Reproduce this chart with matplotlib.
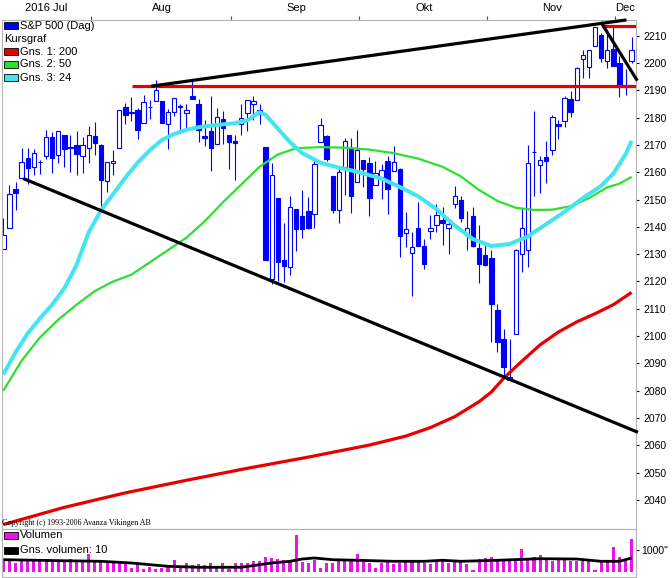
import matplotlib
matplotlib.use('Agg')
import matplotlib.pyplot as plt
from matplotlib.patches import Rectangle
import pandas as pd

# Handelsdagar (S&P 500, dagsdata)
dagar = (
    ['2016-07-%02d' % d for d in [11, 12, 13, 14, 15, 18, 19, 20, 21, 22, 25, 26, 27, 28, 29]]
    + ['2016-08-%02d' % d for d in [1, 2, 3, 4, 5, 8, 9, 10, 11, 12, 15, 16, 17, 18, 19, 22, 23, 24, 25, 26, 29, 30, 31]]
    + ['2016-09-%02d' % d for d in [1, 2, 6, 7, 8, 9, 12, 13, 14, 15, 16, 19, 20, 21, 22, 23, 26, 27, 28, 29, 30]]
    + ['2016-10-%02d' % d for d in [3, 4, 5, 6, 7, 10, 11, 12, 13, 14, 17, 18, 19, 20, 21, 24, 25, 26, 27, 28, 31]]
    + ['2016-11-%02d' % d for d in [1, 2, 3, 4, 7, 8, 9, 10, 11, 14, 15, 16, 17, 18, 21, 22, 23, 25, 28, 29, 30]]
    + ['2016-12-%02d' % d for d in [1, 2, 5]]
)

oppning = [2131.72, 2139.50, 2153.81, 2157.88, 2165.13, 2162.04, 2163.79, 2166.10, 2172.91, 2166.47,
           2173.71, 2168.97, 2169.81, 2166.05, 2168.83,
           2173.15, 2169.94, 2156.81, 2163.51, 2168.79, 2183.76, 2182.24, 2182.81, 2177.97, 2183.74,
           2186.08, 2186.24, 2177.84, 2181.90, 2184.24, 2181.58, 2187.81, 2185.09, 2173.29, 2175.10,
           2170.19, 2179.45, 2173.56,
           2171.33, 2177.49, 2181.61, 2185.17, 2182.76, 2169.08, 2120.86, 2150.47, 2127.86, 2125.36,
           2146.48, 2143.99, 2145.94, 2144.58, 2170.94, 2173.29, 2158.54, 2146.04, 2161.85, 2168.90,
           2156.51,
           2164.33, 2163.37, 2155.15, 2158.22, 2164.19, 2160.39, 2161.35, 2137.67, 2130.26, 2139.68,
           2132.95, 2138.31, 2140.81, 2142.51, 2139.43, 2148.50, 2149.72, 2136.97, 2144.06, 2132.23,
           2129.78,
           2128.68, 2109.43, 2098.80, 2083.79, 2100.59, 2129.92, 2131.56, 2167.49, 2162.71, 2165.64,
           2168.29, 2177.53, 2178.61, 2186.85, 2186.43, 2201.56, 2198.55, 2206.27, 2210.21, 2200.76,
           2204.97,
           2200.17, 2191.12, 2200.65]
hogst = [2143.16, 2155.40, 2156.45, 2169.05, 2169.05, 2168.35, 2164.63, 2175.63, 2174.56, 2175.11,
         2173.71, 2173.54, 2174.98, 2172.85, 2177.09,
         2178.29, 2170.20, 2163.79, 2168.19, 2182.87, 2185.44, 2187.66, 2183.41, 2188.45, 2186.28,
         2193.81, 2186.24, 2183.08, 2187.03, 2185.00, 2184.93, 2193.42, 2186.66, 2179.00, 2187.94,
         2183.48, 2182.27, 2173.79,
         2173.56, 2184.87, 2186.57, 2187.87, 2184.94, 2169.08, 2163.30, 2150.47, 2141.33, 2151.31,
         2146.48, 2153.61, 2150.80, 2165.11, 2179.99, 2173.75, 2158.54, 2161.13, 2172.40, 2172.67,
         2175.30,
         2164.41, 2165.46, 2163.95, 2162.93, 2165.86, 2169.60, 2161.56, 2145.36, 2138.19, 2149.19,
         2135.61, 2144.38, 2148.44, 2147.18, 2142.63, 2154.79, 2151.44, 2145.73, 2147.13, 2140.72,
         2133.25,
         2131.45, 2111.76, 2102.56, 2099.07, 2132.00, 2146.87, 2170.10, 2182.30, 2165.92, 2171.36,
         2180.84, 2179.22, 2188.06, 2189.89, 2198.70, 2204.80, 2204.72, 2213.35, 2211.14, 2210.46,
         2214.10,
         2202.60, 2197.95, 2209.42]
lagst = [2131.72, 2139.50, 2146.21, 2157.88, 2155.79, 2159.07, 2159.40, 2164.89, 2159.75, 2163.24,
         2161.95, 2160.18, 2159.07, 2159.74, 2163.49,
         2166.21, 2147.58, 2152.70, 2159.07, 2168.79, 2177.85, 2178.61, 2172.00, 2177.97, 2179.42,
         2186.08, 2178.14, 2168.50, 2180.46, 2175.13, 2175.96, 2186.80, 2171.25, 2169.74, 2160.39,
         2170.19, 2170.41, 2161.35,
         2157.09, 2173.59, 2175.10, 2179.07, 2177.49, 2127.81, 2119.12, 2120.27, 2119.90, 2122.36,
         2131.20, 2135.91, 2139.17, 2139.57, 2170.94, 2163.97, 2145.04, 2141.55, 2151.79, 2145.20,
         2156.51,
         2154.77, 2144.01, 2155.15, 2150.28, 2144.85, 2160.39, 2128.84, 2132.77, 2114.72, 2132.98,
         2124.43, 2135.49, 2138.15, 2133.44, 2130.09, 2146.91, 2141.93, 2131.59, 2132.52, 2119.36,
         2125.53,
         2097.85, 2094.00, 2085.23, 2083.79, 2100.59, 2123.56, 2125.35, 2151.17, 2152.49, 2156.08,
         2166.38, 2172.20, 2176.65, 2180.38, 2186.43, 2194.51, 2194.51, 2206.27, 2200.36, 2198.15,
         2198.81,
         2187.44, 2188.37, 2199.97]
stangning = [2137.16, 2152.14, 2152.43, 2163.75, 2161.74, 2166.89, 2163.78, 2173.02, 2165.17, 2175.03,
             2168.48, 2169.18, 2166.58, 2170.06, 2173.60,
             2170.84, 2157.03, 2163.79, 2164.25, 2182.87, 2180.89, 2181.74, 2175.49, 2185.79, 2184.05,
             2190.15, 2178.15, 2182.22, 2187.02, 2183.87, 2182.64, 2186.90, 2175.44, 2172.47, 2169.04,
             2180.38, 2176.12, 2170.95,
             2170.86, 2179.98, 2186.48, 2186.16, 2181.30, 2127.81, 2159.04, 2127.02, 2125.77, 2147.26,
             2139.16, 2139.12, 2139.76, 2163.12, 2177.18, 2164.69, 2146.10, 2159.93, 2171.37, 2151.13,
             2168.27,
             2161.20, 2150.49, 2159.73, 2160.77, 2153.74, 2163.66, 2136.73, 2139.18, 2132.55, 2132.98,
             2126.50, 2139.60, 2144.29, 2141.34, 2141.16, 2151.33, 2143.16, 2139.43, 2133.04, 2126.41,
             2126.15,
             2111.72, 2097.94, 2088.66, 2085.18, 2131.52, 2139.56, 2163.26, 2167.48, 2164.45, 2164.20,
             2180.39, 2176.94, 2187.12, 2181.90, 2198.18, 2202.94, 2204.72, 2213.35, 2201.72, 2204.66,
             2198.81,
             2191.08, 2191.95, 2204.71]

volym = [520, 520, 390, 500, 500, 480, 480, 480, 500, 520, 500, 570, 450, 550, 800,
         500, 520, 480, 500, 500, 450, 180, 360, 140, 230, 140, 180, 230, 550, 270, 410, 320, 360,
         320, 410, 180, 410, 140,
         410, 410, 410, 500, 500, 680, 640, 570, 550, 550, 1700, 450, 410, 550, 160, 410, 410, 500,
         500, 550, 800,
         500, 410, 160, 410, 550, 360, 410, 500, 450, 500, 410, 360, 450, 550, 410, 500, 450, 360,
         110, 590, 640,
         680, 550, 550, 550, 550, 1050, 570, 680, 750, 550, 500, 550, 590, 500, 500, 550, 500, 110,
         450, 550, 1140,
         680, 550, 1500]

# Glidande medelvarden (avlasta ur bilden, dagindex -> varde)
gns200_dag = [0, 10, 20, 30, 40, 50, 60, 66, 70, 74, 78, 80, 82, 85, 88, 91, 94, 97, 100, 103]
gns200 = [2031, 2037.3, 2042.6, 2047.2, 2051.6, 2055.7, 2060.1, 2063.4, 2066.5, 2070.5, 2076,
          2079.5, 2084.5, 2090.8, 2096.8, 2101.5, 2105.2, 2108.2, 2111.5, 2116]
gns50_dag = [0, 3, 6, 9, 12, 15, 18, 21, 24, 27, 30, 33, 36, 39, 42, 45, 48, 52, 56, 60, 64, 68,
             72, 75, 78, 81, 84, 87, 90, 93, 96, 99, 101, 103]
gns50 = [2080, 2091, 2099.5, 2106, 2111.5, 2116.5, 2120, 2122.5, 2127, 2131.5, 2136, 2142, 2149,
         2155.5, 2162, 2166.5, 2168.8, 2169.2, 2169, 2168.3, 2167, 2165, 2162, 2158.5, 2153.5,
         2149.5, 2147, 2146.2, 2146.3, 2147.6, 2150.5, 2154.5, 2155.8, 2158.3]
gns24_dag = [0, 2, 4, 6, 8, 10, 12, 14, 16, 18, 20, 22, 24, 26, 28, 30, 32, 35, 38, 40, 42, 43,
             45, 47, 49, 52, 55, 58, 62, 65, 68, 71, 74, 77, 80, 83, 86, 89, 92, 95, 98, 100, 102, 103]
gns24 = [2086, 2094, 2101, 2106.5, 2111.5, 2117.5, 2126, 2138, 2146, 2152, 2158, 2163.5, 2168,
         2171.8, 2174, 2175.5, 2176.5, 2177.3, 2178, 2179, 2182, 2181, 2176, 2171, 2167, 2163.5,
         2161.7, 2160.2, 2157.7, 2154.6, 2151.2, 2146.5, 2140.5, 2135.5, 2133, 2133.7, 2136.5,
         2141, 2145.5, 2150.5, 2155, 2159.5, 2166.5, 2171.5]
gns_vol_dag = [0, 8, 16, 21, 27, 32, 39, 44, 47, 49, 51, 54, 58, 64, 69, 72, 75, 81, 88, 94, 98, 101, 103]
gns_vol = [560, 520, 486, 409, 259, 214, 214, 409, 486, 590, 636, 559, 532, 486, 486, 532, 486,
           532, 604, 590, 486, 486, 636]

# Ritade linjer (dagindex, kurs)
trend_ned = ([3.5, 103.8], [2157.5, 2065.0])
trend_upp = ([24.5, 101.9], [2191.6, 2215.7])
trend_ned_kort = ([98.1, 103.8], [2214.5, 2194.0])
stod = ([21.1, 103.8], [2191.7, 2191.7])
motstand = ([98.2, 103.8], [2213.6, 2213.6])

W, H = 672, 578
fig = plt.figure(figsize=(W / 100, H / 100), dpi=100)
fig.patch.set_facecolor('white')
font = 'Liberation Sans'
gra = '#b4b4b4'


def fx(px):
    return px / W


def fy(py):
    return 1 - py / H


ax = fig.add_axes([fx(1.5), fy(529), (636 - 1.5) / W, (529 - 20) / H])
axv = fig.add_axes([fx(1.5), fy(576.5), (636 - 1.5) / W, (576.5 - 529) / H])

n = len(dagar)
idx = list(range(n))

# Candlesticks
for i in idx:
    ax.vlines(i, lagst[i], hogst[i], color='#0000ff', lw=0.8, zorder=2)
upp = [i for i in idx if stangning[i] >= oppning[i]]
ned = [i for i in idx if stangning[i] < oppning[i]]
ax.bar(upp, [max(stangning[i] - oppning[i], 0.3) for i in upp], bottom=[oppning[i] for i in upp],
       width=0.72, color='white', edgecolor='#0000ff', linewidth=0.8, zorder=2.5)
ax.bar(ned, [oppning[i] - stangning[i] for i in ned], bottom=[stangning[i] for i in ned],
       width=0.72, color='#0000ff', edgecolor='#0000ff', linewidth=0.8, zorder=2.5)

# Medelvarden
rund = dict(solid_joinstyle='round', solid_capstyle='butt')
ax.plot(gns200_dag, gns200, color='#e80000', lw=2.3, zorder=3, **rund)
ax.plot(gns50_dag, gns50, color='#2ee02e', lw=1.6, zorder=3, **rund)
ax.plot(gns24_dag, gns24, color='#45e4f2', lw=2.9, zorder=3.2, **rund)

# Trendlinjer
for xs, ys in [stod, motstand]:
    ax.plot(xs, ys, color='#e80000', lw=2.3, zorder=4, solid_capstyle='butt')
for xs, ys in [trend_ned, trend_upp, trend_ned_kort]:
    ax.plot(xs, ys, color='black', lw=2.3, zorder=4.5, clip_on=False)

ax.set_xlim(-0.3, n - 0.28)
ax.set_ylim(2029.37, 2215.75)
ax.set_yticks(range(2040, 2211, 10))
ax.yaxis.tick_right()
ax.tick_params(axis='y', length=2.5, width=0.8, pad=2.5, labelsize=7.5, colors='black')
for t in ax.get_yticklabels():
    t.set_fontfamily(font)

# Manadsmarkeringar overst
manad = pd.to_datetime(pd.Series(dagar)).dt.month
namn = {7: '2016 Jul', 8: 'Aug', 9: 'Sep', 10: 'Okt', 11: 'Nov', 12: 'Dec'}
starter = [i for i in idx if i > 0 and manad[i] != manad[i - 1]]
ax.xaxis.tick_top()
ax.set_xticks([s - 0.7 for s in starter])
ax.set_xticklabels([])
ax.tick_params(axis='x', length=3, width=0.8, color='#505050')
for m in namn:
    dm = [i for i in idx if manad[i] == m]
    ax.text((dm[0] + dm[-1]) / 2, 1.0236, namn[m], transform=ax.get_xaxis_transform(),
            ha='center', va='center', fontsize=8, family=font)

for a in (ax, axv):
    a.set_facecolor('white')
    for s in a.spines.values():
        s.set_color(gra)
        s.set_linewidth(0.8)

# Volym
axv.bar(idx, volym, width=0.5, color='#e616e6', zorder=2)
axv.plot(gns_vol_dag, gns_vol, color='black', lw=2.0, zorder=3, **rund)
axv.set_xlim(-0.3, n - 0.28)
axv.set_ylim(-205, 1954)
axv.set_xticks([])
axv.yaxis.tick_right()
axv.set_yticks([1000])
axv.set_yticklabels(['1000"'])
axv.tick_params(axis='y', length=2.5, width=0.8, pad=1, labelsize=7.5)
for t in axv.get_yticklabels():
    t.set_fontfamily(font)

# Teckenforklaring
poster = [('S&P 500 (Dag)', '#0000ff', 25.7), ('Kursgraf', None, 39),
          ('Gns. 1: 200', '#e80000', 51.7), ('Gns. 2: 50', '#2ee02e', 64.3),
          ('Gns. 3: 24', '#45e4f2', 77.7),
          ('Volumen', '#e616e6', 535.3), ('Gns. volumen: 10', 'black', 550)]
for text, farg, py in poster:
    if farg is None:
        fig.text(fx(4), fy(py), text, fontsize=8, family=font, va='center', ha='left')
        continue
    fig.add_artist(Rectangle((fx(4), fy(py + 3.5)), 14 / W, 7 / H, transform=fig.transFigure,
                             facecolor=farg, edgecolor='black', lw=0.6, zorder=10))
    fig.text(fx(20), fy(py), text, fontsize=8, family=font, va='center', ha='left', zorder=10)

fig.text(fx(2), fy(523), 'Copyright (c) 1993-2006 Avanza Vikingen AB', fontsize=5.8,
         family='Liberation Serif', va='center', ha='left')

fig.savefig('out.png', dpi=100, facecolor='white')
